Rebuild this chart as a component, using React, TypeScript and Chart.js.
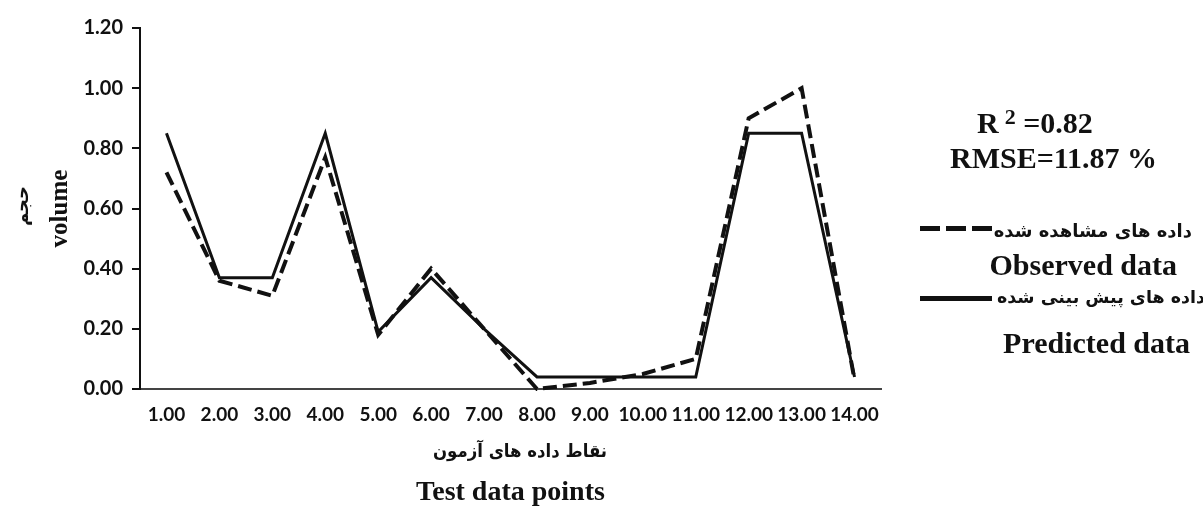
import React, { useEffect, useRef } from "react";
import { Chart, registerables } from "chart.js";

Chart.register(...registerables);

const categories = ["1.00", "2.00", "3.00", "4.00", "5.00", "6.00", "7.00", "8.00", "9.00", "10.00", "11.00", "12.00", "13.00", "14.00"];
const observed = [0.72, 0.36, 0.31, 0.77, 0.18, 0.40, 0.20, 0.0, 0.02, 0.05, 0.10, 0.90, 1.0, 0.03];
const predicted = [0.85, 0.37, 0.37, 0.85, 0.19, 0.37, 0.20, 0.04, 0.04, 0.04, 0.04, 0.85, 0.85, 0.04];
const yMin = 0;
const yMax = 1.2;
const yStep = 0.2;

const serif = "'Liberation Serif', 'Times New Roman', serif";
const persian = "'DejaVu Sans', sans-serif";

export default function App() {
  const ref = useRef<HTMLCanvasElement | null>(null);

  useEffect(() => {
    if (!ref.current) return;
    const chart = new Chart(ref.current, {
      type: "line",
      data: {
        labels: categories,
        datasets: [
          {
            label: "Predicted data",
            data: predicted,
            borderColor: "#111",
            borderWidth: 3,
            pointRadius: 0,
            tension: 0,
            fill: false,
            clip: false as any,
          },
          {
            label: "Observed data",
            data: observed,
            borderColor: "#111",
            borderWidth: 4,
            borderDash: [14, 6],
            pointRadius: 0,
            tension: 0,
            fill: false,
            clip: false as any,
          },
        ],
      },
      options: {
        responsive: false,
        animation: false,
        layout: { padding: { left: 0, right: 322, top: 28, bottom: 0 } },
        plugins: { legend: { display: false }, tooltip: { enabled: false } },
        scales: {
          x: {
            type: "category",
            offset: true,
            grid: { display: false, drawTicks: false },
            border: { display: true, color: "#444", width: 2 },
            ticks: {
              color: "#111",
              padding: 14,
              maxRotation: 0,
              autoSkip: false,
              font: { family: "Lato", size: 19, weight: "bold" },
            },
            title: {
              display: true,
              text: "Test data points",
              color: "#111",
              font: { family: serif, size: 28, weight: "bold" },
              padding: { top: 0, bottom: 9 },
            },
            afterFit: (s: any) => {
              s.height = 130;
            },
          },
          y: {
            min: yMin,
            max: yMax,
            grid: { drawOnChartArea: false, drawTicks: true, tickLength: 8, color: "#111", lineWidth: 2 },
            border: { display: true, color: "#111", width: 2 },
            ticks: {
              stepSize: yStep,
              color: "#111",
              padding: 9,
              font: { family: "Lato", size: 20, weight: "bold" },
              callback: (v: any) => Number(v).toFixed(2),
            },
            title: {
              display: true,
              text: "volume",
              color: "#111",
              font: { family: serif, size: 25, weight: "bold" },
              padding: { top: 46, bottom: 0 },
            },
            afterFit: (s: any) => {
              s.width = 140;
            },
          },
        },
      },
    });
    return () => chart.destroy();
  }, []);

  const abs = { position: "absolute" as const, whiteSpace: "nowrap" as const, color: "#111" };

  return (
    <div style={{ position: "fixed", left: 0, top: 0, width: 1203, height: 519, background: "#fff", overflow: "hidden" }}>
      <canvas ref={ref} width={1203} height={519} style={{ position: "absolute", left: 0, top: 0 }} />
      {/* Persian y-axis title */}
      <div
        dir="rtl"
        style={{
          ...abs,
          left: 22,
          top: 206,
          transform: "translate(-50%, -50%) rotate(-90deg)",
          fontFamily: persian,
          fontWeight: "bold",
          fontSize: 18,
          lineHeight: "22px",
        }}
      >
        حجم
      </div>
      {/* Persian x-axis title */}
      <div
        dir="rtl"
        style={{
          ...abs,
          left: 520,
          top: 451,
          transform: "translate(-50%, -50%) scaleX(0.92)",
          fontFamily: persian,
          fontWeight: "bold",
          fontSize: 18,
          lineHeight: "24px",
        }}
      >
        نقاط داده های آزمون
      </div>
      {/* Stats */}
      <div style={{ ...abs, left: 977, top: 108, fontFamily: serif, fontWeight: "bold", fontSize: 30, lineHeight: "30px" }}>
        R<sup style={{ fontSize: 22, lineHeight: 0, verticalAlign: "9px", marginLeft: 6 }}>2</sup> =0.82
      </div>
      <div style={{ ...abs, left: 950, top: 143, fontFamily: serif, fontWeight: "bold", fontSize: 30, lineHeight: "30px" }}>
        RMSE=11.87 %
      </div>
      {/* Legend row 1 */}
      <div
        style={{
          position: "absolute",
          left: 920,
          top: 226,
          width: 72,
          height: 5,
          background: "repeating-linear-gradient(to right, #111 0px, #111 20px, transparent 20px, transparent 26px)",
        }}
      />
      <div dir="rtl" style={{ ...abs, right: 11, top: 219, fontFamily: persian, fontWeight: "bold", fontSize: 18, lineHeight: "24px" }}>
        داده های مشاهده شده
      </div>
      <div style={{ ...abs, right: 26, top: 250, fontFamily: serif, fontWeight: "bold", fontSize: 30, lineHeight: "30px" }}>
        Observed data
      </div>
      {/* Legend row 2 */}
      <div style={{ position: "absolute", left: 920, top: 296, width: 72, height: 5, background: "#111" }} />
      <div dir="rtl" style={{ ...abs, right: -2, top: 285, fontFamily: persian, fontWeight: "bold", fontSize: 17.5, lineHeight: "24px" }}>
        داده های پیش بینی شده
      </div>
      <div style={{ ...abs, right: 13, top: 328, fontFamily: serif, fontWeight: "bold", fontSize: 30, lineHeight: "30px" }}>
        Predicted data
      </div>
    </div>
  );
}
